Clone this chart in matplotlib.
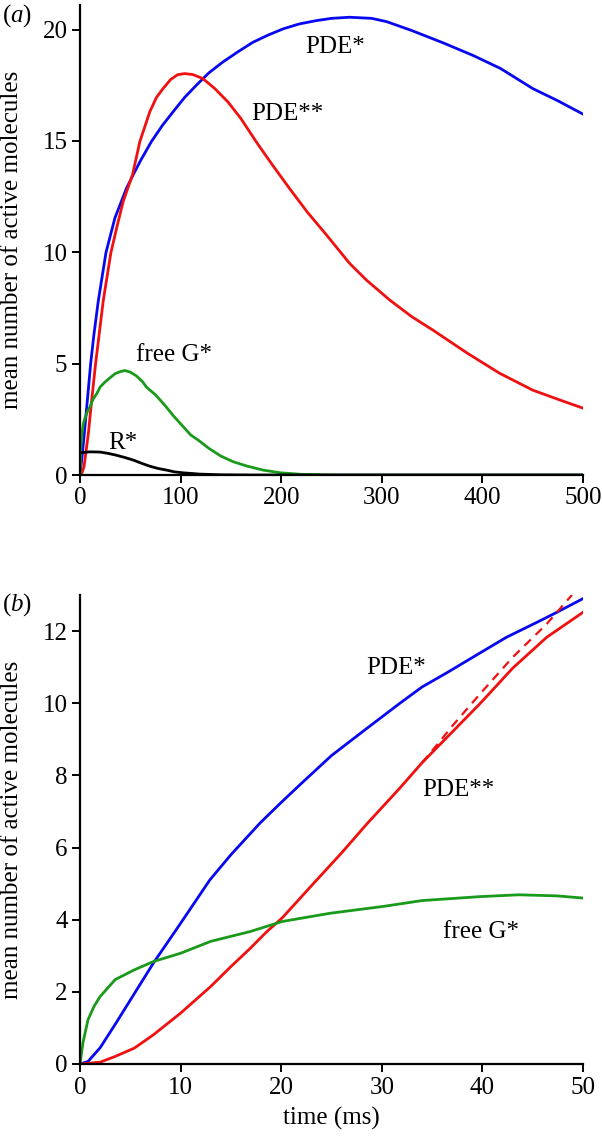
import numpy as np
import matplotlib
matplotlib.use("Agg")
import matplotlib.pyplot as plt

plt.rcParams["font.family"] = ["Liberation Serif", "DejaVu Serif"]
plt.rcParams["mathtext.fontset"] = "custom"
plt.rcParams["mathtext.rm"] = "Liberation Serif"
plt.rcParams["mathtext.it"] = "Liberation Serif:italic"

# panel (a): 0-500 ms
t_pde1_a = [0, 2, 4.3, 7.3, 10.6, 13.9, 18.2, 25.8, 34.7, 46.3, 52.9, 60, 71, 82, 92.6, 104, 115.7,
            128, 142, 157, 172, 187, 202, 218, 235, 250, 268, 290, 305, 330, 361, 391, 418, 450,
            475, 500]
pde1_a = [0, 0.8, 1.86, 3.35, 5.0, 6.33, 7.82, 9.98, 11.54, 12.88, 13.48, 14.1, 14.97, 15.7, 16.31,
          16.95, 17.5, 18.05, 18.54, 19.0, 19.43, 19.75, 20.03, 20.25, 20.4, 20.5, 20.55, 20.5,
          20.35, 19.95, 19.4, 18.83, 18.25, 17.35, 16.8, 16.2]

t_pde2_a = [0, 2, 4, 8.3, 11.6, 15.5, 23.1, 30.7, 37, 43, 52.2, 59.5, 69.4, 76, 82.6, 90, 97, 104,
            112, 122, 134, 147, 160, 175, 190, 208, 226, 244.6, 268, 285, 308, 330, 351, 385, 417,
            450, 475, 500]
pde2_a = [0, 0.1, 0.37, 1.86, 3.35, 5.0, 7.82, 9.98, 11.2, 12.29, 13.48, 14.97, 16.31, 16.95, 17.35,
          17.75, 17.97, 18.02, 17.98, 17.8, 17.35, 16.75, 16.0, 14.97, 14.0, 12.88, 11.8, 10.8,
          9.5, 8.74, 7.85, 7.1, 6.5, 5.47, 4.57, 3.81, 3.4, 3.0]

t_g_a = [0, 0.8, 2, 3.5, 5.4, 7.3, 10, 13, 16.9, 20, 25, 30, 35, 40, 44.6, 50, 56, 62, 66, 75, 84,
         93, 101, 110, 118, 128, 140, 152, 166, 182, 199, 220, 250, 500]
g_a = [0, 1.23, 1.87, 2.34, 2.61, 2.84, 3.07, 3.4, 3.67, 3.95, 4.18, 4.37, 4.55, 4.64, 4.69, 4.62,
       4.45, 4.2, 3.95, 3.6, 3.15, 2.65, 2.25, 1.8, 1.55, 1.2, 0.85, 0.6, 0.4, 0.22, 0.1, 0.03, 0.0,
       0.0]

t_r_a = [0, 10, 20, 28, 36, 45, 53, 61, 69, 77, 86, 94, 102, 119, 140, 170, 500]
r_a = [1.0, 1.04, 1.03, 0.97, 0.89, 0.78, 0.67, 0.53, 0.40, 0.30, 0.22, 0.14, 0.10, 0.04, 0.01, 0.0,
       0.0]

# panel (b): 0-50 ms
t_pde1_b = [0, 0.8, 2, 3.5, 5.4, 7.3, 10, 12.9, 15, 17.9, 20, 21.9, 25, 28.5, 31.8, 34, 36.5, 39.5,
            42.4, 45.4, 47.4, 50]
pde1_b = [0, 0.07, 0.45, 1.1, 1.95, 2.8, 3.9, 5.1, 5.8, 6.68, 7.25, 7.75, 8.55, 9.3, 10.0, 10.45,
          10.85, 11.35, 11.83, 12.24, 12.52, 12.9]

t_pde2_b = [0, 2, 3.5, 5.4, 7.3, 10, 13, 15, 16.9, 18.5, 20.1, 23.2, 26, 28.5, 31.8, 34, 36.5, 39.8,
            43.0, 46.4, 50]
pde2_b = [0, 0.05, 0.21, 0.44, 0.81, 1.41, 2.15, 2.7, 3.2, 3.65, 4.05, 5.0, 5.85, 6.65, 7.65, 8.35,
          9.06, 10.0, 10.97, 11.83, 12.52]

t_pde2_fit = [34, 35.5, 37.1, 39.8, 43.0, 46.4, 48.9]
pde2_fit = [8.35, 8.85, 9.4, 10.27, 11.27, 12.2, 13.0]

t_g_b = [0, 0.3, 0.8, 1.4, 2, 3.5, 5.4, 7.3, 10, 13, 16.9, 20.1, 24.9, 30.2, 34, 39.8, 43.6, 47.4,
         50]
g_b = [0, 0.6, 1.23, 1.6, 1.87, 2.34, 2.61, 2.84, 3.07, 3.4, 3.67, 3.95, 4.18, 4.37, 4.53, 4.64,
       4.69, 4.66, 4.6]

BLUE = "#0808f0"
RED = "#f01010"
GREEN = "#1a9a1a"
LW = 2.0
FS_TICK = 18
FS = 18


def style(ax):
    for side in ("top", "right"):
        ax.spines[side].set_visible(False)
    for side in ("left", "bottom"):
        ax.spines[side].set_linewidth(1.6)
    ax.tick_params(direction="out", length=6, width=1.4, labelsize=FS_TICK, pad=3)


fig = plt.figure(figsize=(6.02, 11.41), dpi=100)

ax1 = fig.add_axes([80 / 602, 1 - 475 / 1141, 503 / 602, 470 / 1141])
ax1.plot(t_pde1_a, pde1_a, color=BLUE, lw=LW)
ax1.plot(t_pde2_a, pde2_a, color=RED, lw=LW)
ax1.plot(t_g_a, g_a, color=GREEN, lw=LW)
ax1.plot(t_r_a, r_a, color="black", lw=LW)
ax1.set_xlim(0, 500)
ax1.set_ylim(0, 21.1)
ax1.set_xticks([0, 100, 200, 300, 400, 500])
ax1.set_yticks([0, 5, 10, 15, 20])
ax1.set_ylabel("mean number of active molecules", fontsize=FS)
ax1.yaxis.set_label_coords(-0.113, 0.5)
style(ax1)
ax1.text(254, 19.2, "PDE*", fontsize=FS, ha="center", va="center")
ax1.text(206, 16.2, "PDE**", fontsize=FS, ha="center", va="center")
ax1.text(93, 5.38, "free G*", fontsize=FS, ha="center", va="center")
ax1.text(43, 1.43, "R*", fontsize=FS, ha="center", va="center")

ax2 = fig.add_axes([80 / 602, 1 - 1064 / 1141, 503 / 602, 469 / 1141])
ax2.plot(t_pde1_b, pde1_b, color=BLUE, lw=LW)
ax2.plot(t_pde2_b, pde2_b, color=RED, lw=LW)
ax2.plot(t_pde2_fit, pde2_fit, color=RED, lw=1.6, ls=(0, (4, 3)))
ax2.plot(t_g_b, g_b, color=GREEN, lw=LW)
ax2.set_xlim(0, 50)
ax2.set_ylim(0, 13)
ax2.set_xticks([0, 10, 20, 30, 40, 50])
ax2.set_yticks([0, 2, 4, 6, 8, 10, 12])
ax2.set_ylabel("mean number of active molecules", fontsize=FS)
ax2.yaxis.set_label_coords(-0.113, 0.5)
ax2.set_xlabel("time (ms)", fontsize=FS, labelpad=6)
style(ax2)
ax2.text(31.4, 10.97, "PDE*", fontsize=FS, ha="center", va="center")
ax2.text(37.6, 7.59, "PDE**", fontsize=FS, ha="center", va="center")
ax2.text(39.9, 3.66, "free G*", fontsize=FS, ha="center", va="center")

fig.text(0.003, 1 - 16 / 1141, r"$(\mathit{a})$", fontsize=FS, ha="left", va="center")
fig.text(0.003, 1 - 605 / 1141, r"$(\mathit{b})$", fontsize=FS, ha="left", va="center")

fig.savefig("out.png", dpi=100, facecolor="white")
